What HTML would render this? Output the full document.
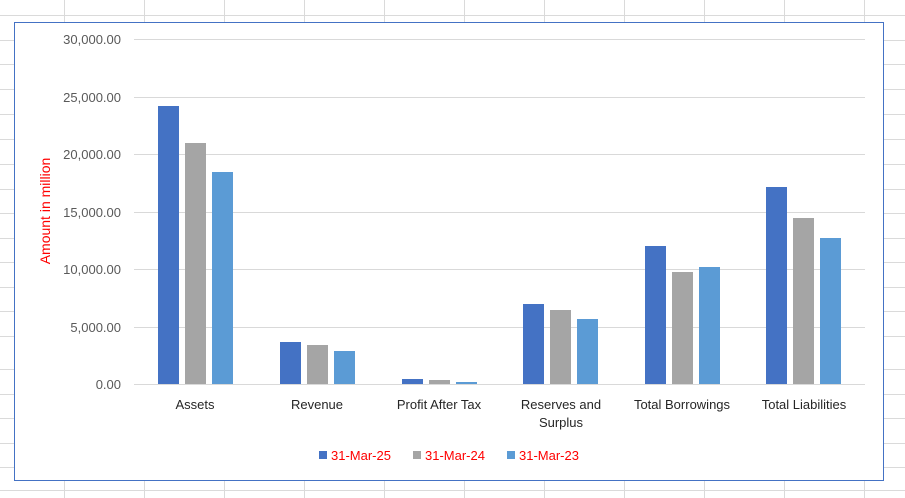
<!DOCTYPE html><html><head><meta charset="utf-8"><style>body{margin:0;background:#fff}svg{display:block}text{font-family:"Liberation Sans",sans-serif}</style></head><body>
<svg width="905" height="498" xmlns="http://www.w3.org/2000/svg">
<g stroke="#dadada" stroke-width="1">
<line x1="0" y1="15.5" x2="905" y2="15.5"/><line x1="0" y1="40.5" x2="905" y2="40.5"/><line x1="0" y1="64.5" x2="905" y2="64.5"/><line x1="0" y1="89.5" x2="905" y2="89.5"/><line x1="0" y1="114.5" x2="905" y2="114.5"/><line x1="0" y1="139.5" x2="905" y2="139.5"/><line x1="0" y1="164.5" x2="905" y2="164.5"/><line x1="0" y1="189.5" x2="905" y2="189.5"/><line x1="0" y1="213.5" x2="905" y2="213.5"/><line x1="0" y1="238.5" x2="905" y2="238.5"/><line x1="0" y1="262.5" x2="905" y2="262.5"/><line x1="0" y1="287.5" x2="905" y2="287.5"/><line x1="0" y1="311.5" x2="905" y2="311.5"/><line x1="0" y1="336.5" x2="905" y2="336.5"/><line x1="0" y1="369.5" x2="905" y2="369.5"/><line x1="0" y1="394.5" x2="905" y2="394.5"/><line x1="0" y1="418.5" x2="905" y2="418.5"/><line x1="0" y1="443.5" x2="905" y2="443.5"/><line x1="0" y1="467.5" x2="905" y2="467.5"/><line x1="0" y1="490.5" x2="905" y2="490.5"/>
<line x1="64.5" y1="0" x2="64.5" y2="498"/><line x1="144.5" y1="0" x2="144.5" y2="498"/><line x1="224.5" y1="0" x2="224.5" y2="498"/><line x1="304.5" y1="0" x2="304.5" y2="498"/><line x1="384.5" y1="0" x2="384.5" y2="498"/><line x1="464.5" y1="0" x2="464.5" y2="498"/><line x1="544.5" y1="0" x2="544.5" y2="498"/><line x1="624.5" y1="0" x2="624.5" y2="498"/><line x1="704.5" y1="0" x2="704.5" y2="498"/><line x1="784.5" y1="0" x2="784.5" y2="498"/><line x1="864.5" y1="0" x2="864.5" y2="498"/>
</g>
<rect x="14.5" y="22.5" width="869" height="458" fill="#fff" stroke="#4472c4" stroke-width="1"/>
<g stroke="#d9d9d9" stroke-width="1">
<line x1="134" y1="39.5" x2="865" y2="39.5"/><line x1="134" y1="97.5" x2="865" y2="97.5"/><line x1="134" y1="154.5" x2="865" y2="154.5"/><line x1="134" y1="212.5" x2="865" y2="212.5"/><line x1="134" y1="269.5" x2="865" y2="269.5"/><line x1="134" y1="327.5" x2="865" y2="327.5"/><line x1="134" y1="384.5" x2="865" y2="384.5"/>
</g>
<g font-size="13" fill="#595959" text-anchor="end">
<text x="121" y="44">30,000.00</text><text x="121" y="102">25,000.00</text><text x="121" y="159">20,000.00</text><text x="121" y="217">15,000.00</text><text x="121" y="274">10,000.00</text><text x="121" y="332">5,000.00</text><text x="121" y="389">0.00</text>
</g>
<text transform="translate(50,211) rotate(-90)" font-size="14" fill="#ff0000" text-anchor="middle">Amount in million</text>
<g>
<rect x="158" y="106" width="21" height="278" fill="#4472c4"/><rect x="185" y="143" width="21" height="241" fill="#a5a5a5"/><rect x="212" y="172" width="21" height="212" fill="#5b9bd5"/>
<rect x="280" y="342" width="21" height="42" fill="#4472c4"/><rect x="307" y="345" width="21" height="39" fill="#a5a5a5"/><rect x="334" y="351" width="21" height="33" fill="#5b9bd5"/>
<rect x="402" y="379" width="21" height="5" fill="#4472c4"/><rect x="429" y="380" width="21" height="4" fill="#a5a5a5"/><rect x="456" y="382" width="21" height="2" fill="#5b9bd5"/>
<rect x="523" y="304" width="21" height="80" fill="#4472c4"/><rect x="550" y="310" width="21" height="74" fill="#a5a5a5"/><rect x="577" y="319" width="21" height="65" fill="#5b9bd5"/>
<rect x="645" y="246" width="21" height="138" fill="#4472c4"/><rect x="672" y="272" width="21" height="112" fill="#a5a5a5"/><rect x="699" y="267" width="21" height="117" fill="#5b9bd5"/>
<rect x="766" y="187" width="21" height="197" fill="#4472c4"/><rect x="793" y="218" width="21" height="166" fill="#a5a5a5"/><rect x="820" y="238" width="21" height="146" fill="#5b9bd5"/>
</g>
<g font-size="13" fill="#262626" text-anchor="middle">
<text x="195" y="409">Assets</text><text x="317" y="409">Revenue</text><text x="439" y="409">Profit After Tax</text><text x="561" y="409">Reserves and</text><text x="561" y="427">Surplus</text><text x="682" y="409">Total Borrowings</text><text x="804" y="409">Total Liabilities</text>
</g>
<g font-size="13" fill="#ff0000">
<rect x="319" y="451" width="8" height="8" fill="#4472c4"/><text x="331" y="460">31-Mar-25</text>
<rect x="413" y="451" width="8" height="8" fill="#a5a5a5"/><text x="425" y="460">31-Mar-24</text>
<rect x="507" y="451" width="8" height="8" fill="#5b9bd5"/><text x="519" y="460">31-Mar-23</text>
</g>
</svg></body></html>
